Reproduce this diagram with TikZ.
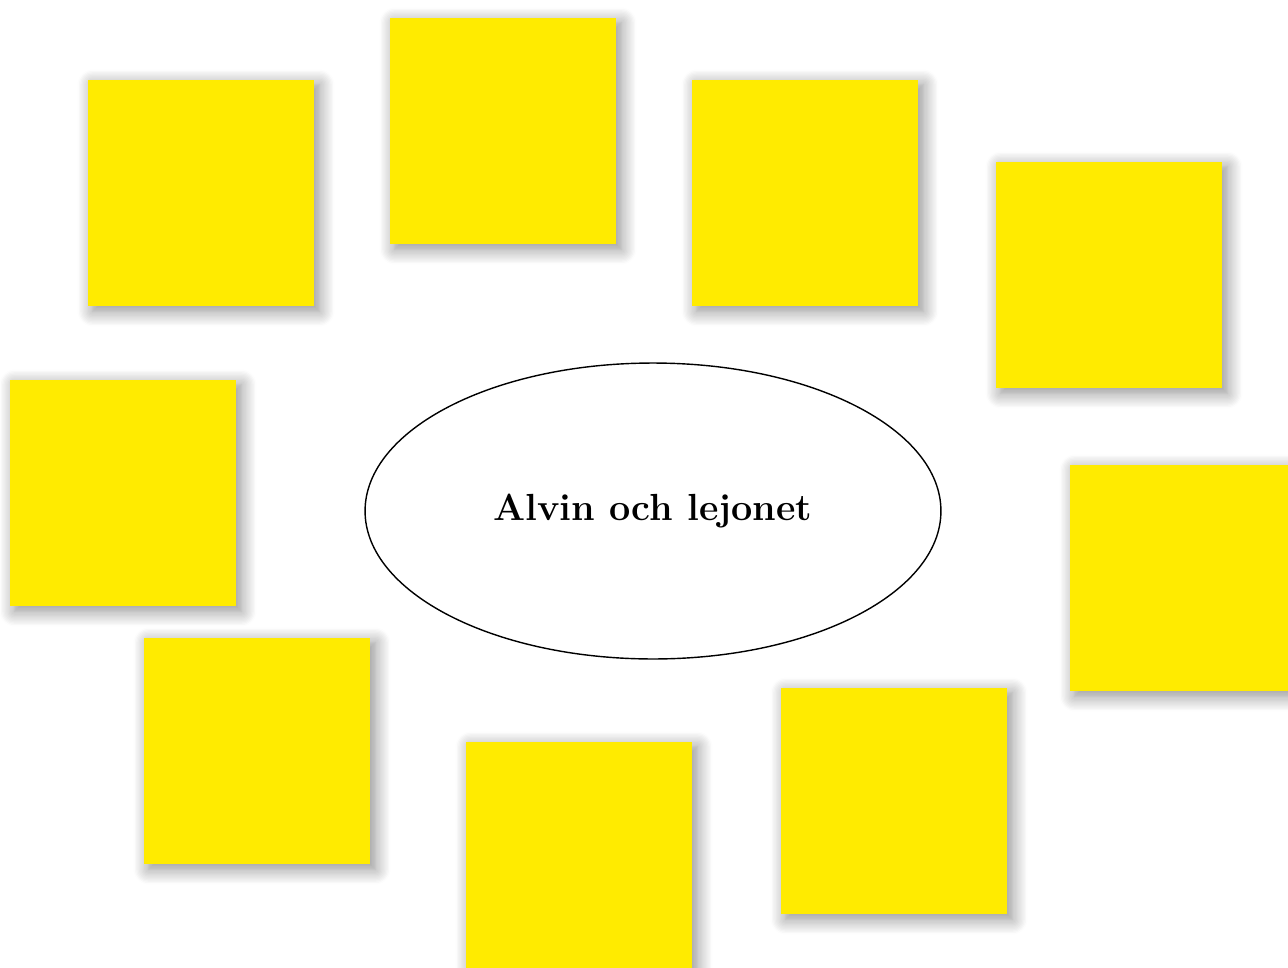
\documentclass[tikz,border=0pt]{standalone}
\usepackage{tikz}
\usetikzlibrary{shapes.geometric, shadows.blur}
\definecolor{noteyellow}{HTML}{FFEB00}

\begin{document}
\begin{tikzpicture}[
    x=0.02cm, y=-0.02cm,
    note/.style={fill=noteyellow, minimum width=4.54cm, minimum height=4.54cm, inner sep=0pt,
        blur shadow={shadow xshift=0.1cm, shadow yshift=-0.1cm, shadow blur radius=0.3cm,
            shadow blur steps=12, shadow opacity=45}},
    topic/.style={draw, thick, ellipse, minimum width=11.52cm, minimum height=5.92cm,
        font=\fontsize{21.5}{26}\selectfont\bfseries}
]
    \useasboundingbox (0,0) rectangle (1288,967);
    \clip (0,0) rectangle (1288,967);

    % lappar runt om
    \node[note] (n1) at (201,193) {};
    \node[note] (n2) at (503,131) {};
    \node[note] (n3) at (805,193) {};
    \node[note] (n4) at (1109,275) {};
    \node[note] (n5) at (123,493) {};
    \node[note] (n6) at (1183,578) {};
    \node[note] (n7) at (257,751) {};
    \node[note] (n8) at (579,855) {};
    \node[note] (n9) at (894,801) {};

    % mitten
    \node[topic] (titel) at (653,511) {Alvin och lejonet};
\end{tikzpicture}
\end{document}
